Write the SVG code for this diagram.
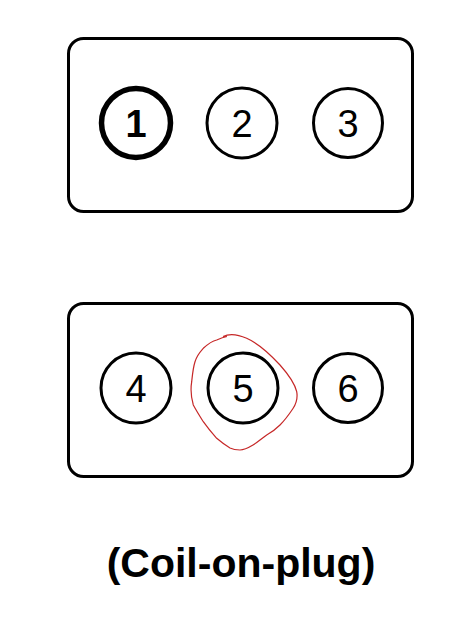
<svg xmlns="http://www.w3.org/2000/svg" width="474" height="624" viewBox="0 0 474 624">
<style>
.box{fill:#fff;stroke:#000;stroke-width:3}
.cyl{fill:#fff;stroke:#000;stroke-width:3}
.num{font-family:"Liberation Sans",Arial,sans-serif;font-size:38px;text-anchor:middle;fill:#000}
</style>
<rect width="474" height="624" fill="#fff"/>
<g id="bank-top">
<rect class="box" x="68.5" y="38.5" width="344" height="173" rx="15"/>
</g>
<g id="cyl1">
<circle cx="136" cy="123" r="34.5" fill="#fff" stroke="#000" stroke-width="5.5"/>
<text class="num" x="136" y="137" font-weight="bold">1</text>
</g>
<g id="cyl2">
<circle class="cyl" cx="242" cy="123" r="35"/>
<text class="num" x="242" y="137">2</text>
</g>
<g id="cyl3">
<circle class="cyl" cx="348" cy="123" r="34.5"/>
<text class="num" x="348" y="137">3</text>
</g>
<g id="bank-bottom">
<rect class="box" x="68.5" y="303.5" width="344" height="173" rx="15"/>
</g>
<g id="cyl4">
<circle class="cyl" cx="136" cy="388" r="35"/>
<text class="num" x="136" y="402">4</text>
</g>
<g id="cyl5">
<circle class="cyl" cx="243" cy="388" r="35"/>
<text class="num" x="243" y="402">5</text>
</g>
<g id="cyl6">
<circle class="cyl" cx="348" cy="388" r="34.5"/>
<text class="num" x="348" y="402">6</text>
</g>
<g id="highlight-5">
<path d="M223,336.5 C228,334 236,333.5 246.7,338.3 C255,342 268,352 280,365 C288,374 295,384 296.7,391.7 C298,399 296,404 293,408.5 C288,416 285,420 280,425 C275,430 272,432 266.7,435 C261,439 258,442 253,445 C248,448 244,450 240,450 C236,450 233,449.5 230,448 C225,445 221,442 216.7,438.3 C211,432 207,427 203.3,421.7 C199,415 196,410 193.3,405 C191,397 190.5,389 191.7,381.7 C192.5,374 193,368 195,361.7 C197,355 200,352 203.3,348.3 C208,344 212,341 216.7,340 C221,338 224,337 227,336.5" fill="none" stroke="#c62828" stroke-width="1.2"/>
</g>
<g id="connectors"></g>
<g id="caption">
<text x="241" y="577" font-family="'Liberation Sans',Arial,sans-serif" font-size="41" font-weight="bold" text-anchor="middle" fill="#000">(Coil-on-plug)</text>
</g>
</svg>
